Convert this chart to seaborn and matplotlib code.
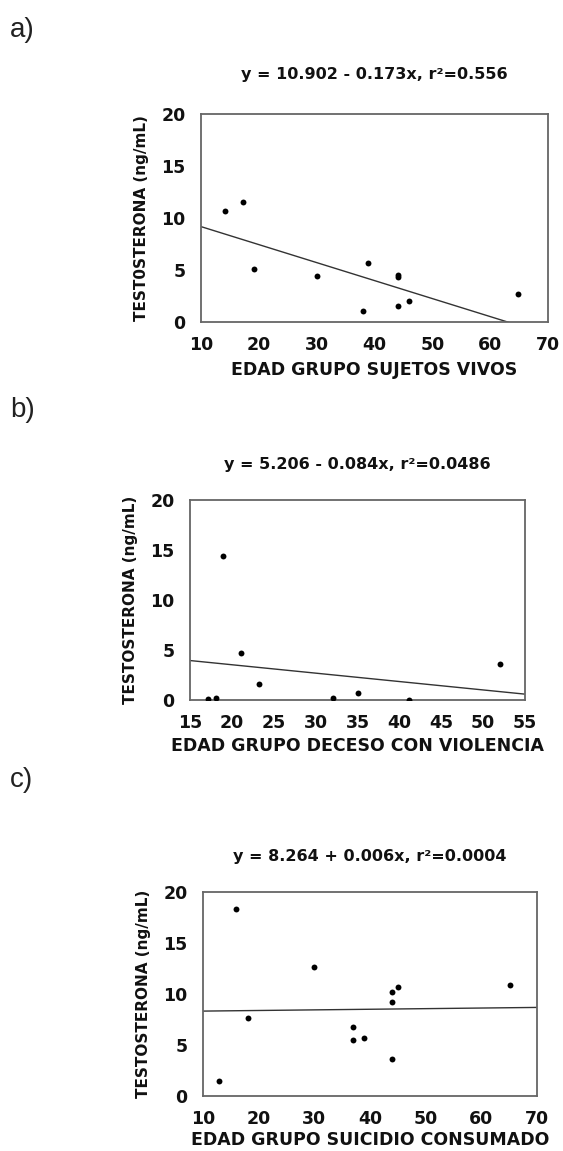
import numpy as np
import pandas as pd
import matplotlib
matplotlib.use("Agg")
import matplotlib.pyplot as plt
import seaborn as sns

# ---- data ----
age_a = [14.2, 17.3, 19.2, 30.1, 38.0, 38.9, 44.1, 44.0, 44.0, 46.0, 64.8]
tes_a = [10.7, 11.5, 5.1, 4.46, 1.03, 5.7, 4.5, 4.3, 1.57, 2.0, 2.66]
coef_a = (10.902, -0.173)
title_a = "y = 10.902 - 0.173x, r²=0.556"
xlabel_a = "EDAD GRUPO SUJETOS VIVOS"
ylabel_a = "TEST0STERONA (ng/mL)"
xticks_a = [10, 20, 30, 40, 50, 60, 70]

age_b = [17.1, 18.1, 19.0, 21.1, 23.2, 32.1, 35.0, 41.1, 52.0]
tes_b = [0.07, 0.23, 14.4, 4.7, 1.6, 0.23, 0.67, 0.03, 3.57]
coef_b = (5.206, -0.084)
title_b = "y = 5.206 - 0.084x, r²=0.0486"
xlabel_b = "EDAD GRUPO DECESO CON VIOLENCIA"
ylabel_b = "TESTOSTERONA (ng/mL)"
xticks_b = [15, 20, 25, 30, 35, 40, 45, 50, 55]

age_c = [12.8, 15.9, 18.0, 30.0, 36.9, 36.9, 39.0, 43.9, 44.0, 45.0, 44.0, 65.1]
tes_c = [1.44, 18.3, 7.67, 12.66, 6.8, 5.5, 5.7, 10.2, 9.25, 10.7, 3.65, 10.9]
coef_c = (8.264, 0.006)
title_c = "y = 8.264 + 0.006x, r²=0.0004"
xlabel_c = "EDAD GRUPO SUICIDIO CONSUMADO"
ylabel_c = "TESTOSTERONA (ng/mL)"
xticks_c = [10, 20, 30, 40, 50, 60, 70]

yticks = [0, 5, 10, 15, 20]
panel_labels = ["a)", "b)", "c)"]

sns.set_theme(style="white")
plt.rcParams['font.family'] = ['DejaVu Sans']

W, H = 563, 1151
fig = plt.figure(figsize=(W / 100, H / 100), dpi=100)

def frac(l, t, r, b):
    return [l / W, 1 - b / H, (r - l) / W, (b - t) / H]

panels = [
    (frac(201, 114, 548, 322), age_a, tes_a, coef_a, title_a, xlabel_a, ylabel_a, xticks_a, (10, 70), 75, 30, 5),
    (frac(190, 500, 525, 700), age_b, tes_b, coef_b, title_b, xlabel_b, ylabel_b, xticks_b, (15, 55), 465, 410, 4),
    (frac(203, 892, 537, 1096), age_c, tes_c, coef_c, title_c, xlabel_c, ylabel_c, xticks_c, (10, 70), 856, 780, 2),
]

for i, (rect, xs, ys, coef, title, xl, yl, xt, xlim, ty, ply, lpad) in enumerate(panels):
    ax = fig.add_axes(rect)
    df = pd.DataFrame({"x": xs, "y": ys})
    sns.scatterplot(data=df, x="x", y="y", ax=ax, color="black", s=18,
                    edgecolor="black", linewidth=0, zorder=3)
    lx = np.array([xlim[0], xlim[1]], dtype=float)
    ly = coef[0] + coef[1] * lx
    sns.lineplot(x=lx, y=ly, ax=ax, color="#333333", linewidth=1.0)
    ax.set_xlim(*xlim)
    ax.set_ylim(0, 20)
    ax.set_xticks(xt)
    ax.set_yticks(yticks)
    ax.tick_params(axis="both", labelsize=12.5, length=2, width=0.8,
                   direction="out", color="#555555", pad=9)
    ax.tick_params(axis="x", pad=8)
    for lab in ax.get_xticklabels() + ax.get_yticklabels():
        lab.set_fontweight("bold")
        lab.set_color("#111111")
    for sp in ax.spines.values():
        sp.set_color("#666666")
        sp.set_linewidth(1.3)
    ax.set_xlabel(xl, fontsize=12.5, fontweight="bold", labelpad=lpad, color="#111111")
    ax.set_ylabel(yl, fontsize=11, fontweight="bold", labelpad=9, color="#111111")
    cx = (rect[0] + rect[2] / 2)
    fig.text(cx, 1 - ty / H, title, ha="center", va="center", fontsize=11.5,
             fontweight="bold", color="#111111")
    fig.text(10 / W, 1 - ply / H, panel_labels[i], ha="left", va="center",
             fontsize=20, family=["Liberation Sans", "DejaVu Sans"], color="#222222")

fig.savefig("out.png", dpi=100, facecolor="white")
